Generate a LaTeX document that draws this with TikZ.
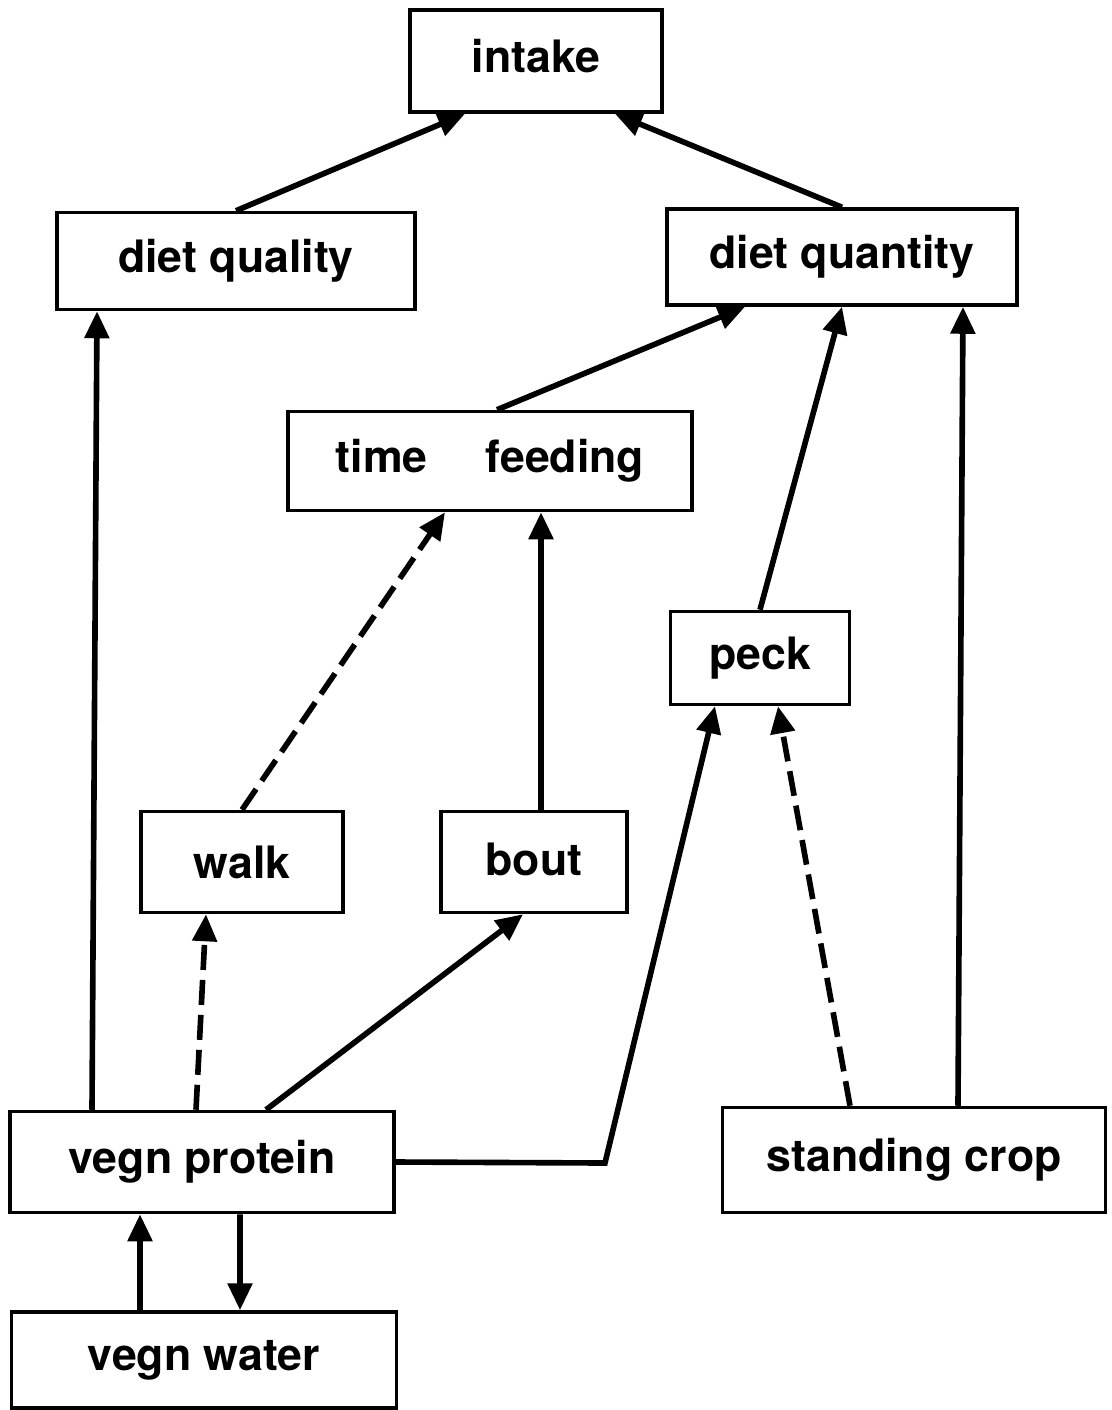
\documentclass[tikz,border=0pt]{standalone}
\usepackage{fontspec}
\setmainfont{TeX Gyre Heros}
\usetikzlibrary{arrows.meta}

\begin{document}
\begin{tikzpicture}[
	box/.style={draw, line width=1pt, inner sep=0pt, font=\fontsize{12.7}{15}\selectfont\bfseries},
	link/.style={line width=1.6pt, -{Triangle[length=0.27cm,width=0.24cm]}},
	dlink/.style={link, dash pattern=on 0.25cm off 0.1cm}]
	\useasboundingbox (0,0) rectangle (11.12,-14.10);
	% boxes
	\node[box, minimum width=2.52cm, minimum height=1.02cm] (in) at (5.36,-0.61) {\raisebox{0.1cm}{intake}};
	\node[box, minimum width=3.58cm, minimum height=0.97cm] (dql) at (2.36,-2.61) {\raisebox{0.05cm}{diet quality}};
	\node[box, minimum width=3.50cm, minimum height=0.96cm] (dqn) at (8.42,-2.57) {\raisebox{0.06cm}{diet quantity}};
	\node[box, minimum width=4.04cm, minimum height=0.99cm] (tf) at (4.90,-4.61) {\raisebox{0.07cm}{time\hspace{1.3em}feeding}};
	\node[box, minimum width=1.79cm, minimum height=0.93cm] (pk) at (7.60,-6.58) {\raisebox{0.04cm}{peck}};
	\node[box, minimum width=2.02cm, minimum height=1.01cm] (wk) at (2.42,-8.62) {walk};
	\node[box, minimum width=1.86cm, minimum height=1.01cm] (bt) at (5.34,-8.62) {\raisebox{0.05cm}{bout}};
	\node[box, minimum width=3.84cm, minimum height=1.01cm] (vp) at (2.02,-11.62) {\raisebox{0.03cm}{vegn protein}};
	\node[box, minimum width=3.83cm, minimum height=1.05cm] (sc) at (9.14,-11.60) {\raisebox{0.06cm}{standing crop}};
	\node[box, minimum width=3.85cm, minimum height=0.96cm] (vw) at (2.04,-13.60) {\raisebox{0.04cm}{vegn water}};
	\coordinate (bend) at (6.05,-11.63);
	% connectors
	\draw[link] (dql.north) -- ([xshift=-0.71cm]in.south);
	\draw[link] (dqn.north) -- ([xshift=0.79cm]in.south);
	\draw[link] ([xshift=0.07cm]tf.north) -- ([xshift=-0.97cm]dqn.south);
	\draw[link] (pk.north) -- (dqn.south);
	\draw[link] ([xshift=0.44cm]sc.north) -- ([xshift=1.21cm]dqn.south);
	\draw[link] ([xshift=-1.10cm]vp.north) -- ([xshift=-1.39cm]dql.south);
	\draw[dlink] (wk.north) -- ([xshift=-0.45cm]tf.south);
	\draw[link] ([xshift=0.07cm]bt.north) -- ([xshift=0.51cm]tf.south);
	\draw[dlink] ([xshift=-0.06cm]vp.north) -- ([xshift=-0.36cm]wk.south);
	\draw[link] ([xshift=0.64cm]vp.north) -- ([xshift=-0.11cm]bt.south);
	\draw[link] (vp.east) -- (bend) -- ([xshift=-0.45cm]pk.south);
	\draw[dlink] ([xshift=-0.64cm]sc.north) -- ([xshift=0.18cm]pk.south);
	\draw[link] ([xshift=-0.64cm]vw.north) -- ([xshift=-0.62cm]vp.south);
	\draw[link] ([xshift=0.38cm]vp.south) -- ([xshift=0.36cm]vw.north);
\end{tikzpicture}
\end{document}
